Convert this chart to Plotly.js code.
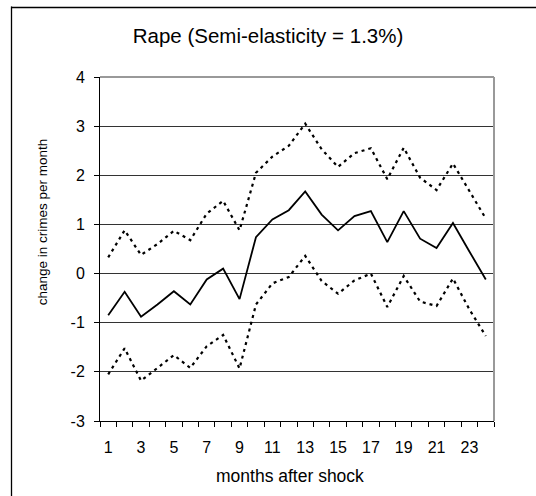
<!DOCTYPE html>
<html>
<head>
<meta charset="utf-8">
<script src="https://cdn.plot.ly/plotly-3.0.1.min.js"></script>
<style>html,body{margin:0;padding:0;background:#fff;}#chart{width:536px;height:496px;}</style>
</head>
<body>
<div id="chart"></div>
<script>
const months = [1,2,3,4,5,6,7,8,9,10,11,12,13,14,15,16,17,18,19,20,21,22,23,24];
const estimate = [-0.85,-0.37,-0.88,-0.63,-0.36,-0.63,-0.12,0.10,-0.52,0.74,1.10,1.29,1.67,1.20,0.88,1.17,1.27,0.64,1.27,0.71,0.52,1.03,0.45,-0.12];
const upper = [0.33,0.88,0.38,0.60,0.87,0.68,1.22,1.48,0.88,2.05,2.38,2.60,3.05,2.53,2.17,2.45,2.55,1.92,2.56,1.95,1.70,2.24,1.68,1.12];
const lower = [-2.05,-1.52,-2.18,-1.92,-1.66,-1.92,-1.48,-1.25,-1.93,-0.63,-0.20,-0.07,0.36,-0.15,-0.41,-0.14,0.00,-0.68,-0.05,-0.57,-0.66,-0.10,-0.73,-1.27];
const xTickVals = [1,3,5,7,9,11,13,15,17,19,21,23];
const xTickText = ["1","3","5","7","9","11","13","15","17","19","21","23"];
const yTickVals = [-3,-2,-1,0,1,2,3,4];
const yTickText = ["-3","-2","-1","0","1","2","3","4"];

const font = "Liberation Sans, Arial, sans-serif";
const W = 394, H = 344.5; // plot area size in px
const traces = [
  {x: months, y: upper, mode: 'lines', line: {color: '#000', width: 2.2, dash: '3px,4px'}, hoverinfo: 'skip'},
  {x: months, y: lower, mode: 'lines', line: {color: '#000', width: 2.2, dash: '3px,4px'}, hoverinfo: 'skip'},
  {x: months, y: estimate, mode: 'lines', line: {color: '#000', width: 1.8}, hoverinfo: 'skip'}
];
const layout = {
  width: 536, height: 496,
  margin: {l: 100, r: 42, t: 77, b: 74.5},
  paper_bgcolor: '#fff', plot_bgcolor: '#fff',
  showlegend: false,
  font: {family: font, color: '#000', size: 15},
  title: {text: 'Rape (Semi-elasticity = 1.3%)', font: {family: font, size: 20.5, color: '#000'},
          x: 0.5, xref: 'container', y: 1 - 36/496, yref: 'container', yanchor: 'middle'},
  xaxis: {
    range: [0.5, 24.5], tickvals: xTickVals, ticktext: xTickText, ticks: '',
    showgrid: false, zeroline: false, showline: true, linecolor: '#000', linewidth: 1,
    tickfont: {family: font, size: 16, color: '#000'}, ticklabelstandoff: 12,
    minor: {tick0: 0.5, dtick: 1, ticks: 'outside', ticklen: 5, tickcolor: '#000', tickwidth: 1, showgrid: false},
    title: {text: ''}
  },
  yaxis: {
    range: [-3, 4], tickvals: yTickVals, ticktext: yTickText, ticks: 'outside', ticklen: 5, tickcolor: '#000',
    showgrid: true, gridcolor: '#333', gridwidth: 1, zeroline: false,
    showline: true, linecolor: '#000', linewidth: 1,
    tickfont: {family: font, size: 16, color: '#000'}, ticklabelstandoff: 6,
    title: {text: ''}
  },
  annotations: [
    {text: 'months after shock', xref: 'paper', yref: 'paper', x: (290 - 100) / W, y: -(477 - 421.5) / H,
     xanchor: 'center', yanchor: 'middle', showarrow: false, font: {family: font, size: 17.5, color: '#000'}},
    {text: 'change in crimes per month', xref: 'paper', yref: 'paper', x: -(100 - 42) / W, y: (421.5 - 222.5) / H,
     xanchor: 'center', yanchor: 'middle', textangle: -90, showarrow: false, font: {family: font, size: 13.5, color: '#000'}}
  ],
  shapes: [
    {type: 'line', xref: 'paper', yref: 'paper', x0: 0, x1: 1, y0: 1, y1: 1, line: {color: '#999', width: 2}},
    {type: 'line', xref: 'paper', yref: 'paper', x0: 1, x1: 1, y0: 0, y1: 1, line: {color: '#999', width: 2}},
    {type: 'line', xref: 'paper', yref: 'paper', x0: -88.5 / W, x1: -88.5 / W, y0: -90 / H, y1: 1 + 70.5 / H,
     line: {color: '#000', width: 1.3}},
    {type: 'line', xref: 'paper', yref: 'paper', x0: -89 / W, x1: 1 + 60 / W, y0: 1 + 69.5 / H, y1: 1 + 69.5 / H,
     line: {color: '#000', width: 1.5}}
  ]
};
Plotly.newPlot('chart', traces, layout, {staticPlot: true, displayModeBar: false});
</script>
</body>
</html>
